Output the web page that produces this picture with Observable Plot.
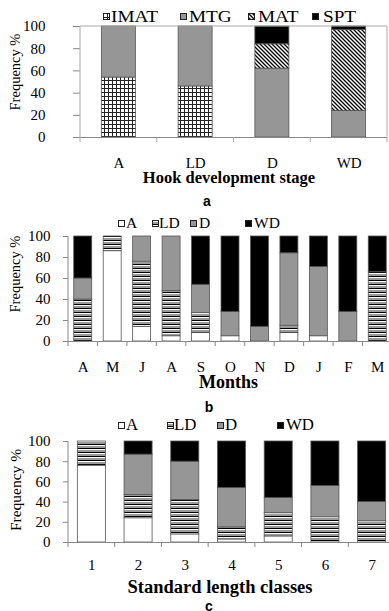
<!DOCTYPE html>
<html><head><meta charset="utf-8">
<script src="https://cdn.jsdelivr.net/npm/d3@7"></script>
<script src="https://cdn.jsdelivr.net/npm/@observablehq/plot@0.6"></script>
<style>
html,body{margin:0;padding:0;background:#fff;overflow:hidden;}
#root{position:relative;width:389px;height:611px;overflow:hidden;font-family:"Liberation Serif","Times New Roman",serif;color:#000;}
.panel{position:absolute;left:0;}
.lg-box{position:absolute;width:7px;height:7px;}
.lg-text{position:absolute;line-height:15px;white-space:nowrap;transform-origin:0 50%;}
.tag{position:absolute;width:20px;text-align:center;font-family:"Liberation Sans",Arial,sans-serif;font-weight:bold;font-size:14px;line-height:14px;}
[aria-label="y-axis tick"]{color:#888;}
</style>
</head><body>
<svg width="0" height="0" style="position:absolute">
<defs>
<pattern id="pGrid" width="4" height="4" patternUnits="userSpaceOnUse">
<rect width="4" height="4" fill="#fff"/>
<path d="M0.5,0V4M0,0.5H4" stroke="#222" stroke-width="1"/>
</pattern>
<pattern id="pDiag" width="4" height="4" patternUnits="userSpaceOnUse">
<rect width="4" height="4" fill="#fff"/>
<path d="M-1,-1L5,5M-1,3L1,5M3,-1L5,1" stroke="#000" stroke-width="1.3"/>
</pattern>
<pattern id="pHoriz" width="4" height="4" patternUnits="userSpaceOnUse">
<rect width="4" height="4" fill="#9a9a9a"/>
<rect y="0" width="4" height="1" fill="#000"/>
<rect y="1" width="4" height="1" fill="#fff"/>
</pattern>
</defs></svg>
<div id="root"></div>
<script>
// ---------- DATA ----------
// Panel a: Hook development stage
const stageCats = ["A", "LD", "D", "WD"];
const stageSeries = ["IMAT", "MTG", "MAT", "SPT"];
const stageIMAT = [54, 46, 0, 0];
const stageMTG  = [46, 54, 62, 24];
const stageMAT  = [0, 0, 22, 73];
const stageSPT  = [0, 0, 16, 3];

// Panel b: Months
const monthKeys   = ["Apr", "May", "Jun", "Aug", "Sep", "Oct", "Nov", "Dec", "Jan", "Feb", "Mar"];
const monthLabels = ["A", "M", "J", "A", "S", "O", "N", "D", "J", "F", "M"];
const hookSeries = ["A", "LD", "D", "WD"];
const monthA  = [0, 86, 14, 5, 8, 5, 0, 8, 5, 0, 0];
const monthLD = [40, 14, 62, 43, 19, 0, 0, 7, 0, 0, 66];
const monthD  = [20, 0, 24, 52, 27, 23, 14, 69, 66, 28, 0];
const monthWD = [40, 0, 0, 0, 46, 72, 86, 16, 29, 72, 34];

// Panel c: Standard length classes
const lengthCats = ["1", "2", "3", "4", "5", "6", "7"];
const lengthA  = [76, 24, 8, 3, 6, 0, 0];
const lengthLD = [24, 23, 34, 12, 23, 25, 21];
const lengthD  = [0, 40, 38, 39, 15, 31, 19];
const lengthWD = [0, 13, 20, 46, 56, 44, 60];

const yTicks = [0, 20, 40, 60, 80, 100];

// ---------- STYLES ----------
const GRAY = "#969696";
const stageFills = ["url(#pGrid)", GRAY, "url(#pDiag)", "#000"];
const hookFills = ["#fff", "url(#pHoriz)", GRAY, "#000"];
const FONT = '"Liberation Serif","Times New Roman",serif';

const root = document.getElementById("root");

function panel(cfg) {
  const rows = cfg.series.flatMap((s, si) =>
    cfg.cats.map((c, ci) => ({cat: c, series: s, value: cfg.values[si][ci]}))
  ).filter(d => d.value > 0);

  const chart = Plot.plot({
    width: 389, height: cfg.height,
    marginLeft: cfg.mL, marginRight: cfg.mR, marginTop: cfg.mT, marginBottom: cfg.mB,
    style: {fontFamily: FONT, fontSize: "15px", background: "transparent", overflow: "visible", color: "#000"},
    x: {domain: cfg.cats, paddingInner: cfg.pad, paddingOuter: cfg.pad / 2, round: false, axis: null, label: null},
    y: {domain: [0, 100], axis: null, label: null},
    color: {domain: cfg.series, range: cfg.fills},
    marks: [
      Plot.barY(rows, {x: "cat", y: "value", fill: "series", stroke: "#555", strokeWidth: 0.8}),
      Plot.ruleY([0], {stroke: "#888"}),
      Plot.axisY({ticks: yTicks, tickSize: cfg.yTickSize, tickPadding: cfg.yTickPad, fontSize: 15, label: null}),
      Plot.axisX({tickSize: 0, tickPadding: cfg.xTickPad, fontSize: 15, label: null,
        tickFormat: cfg.labels ? (d => cfg.labels[cfg.cats.indexOf(d)]) : (d => d)}),
      Plot.text([cfg.title], {text: d => d, frameAnchor: "bottom", dx: cfg.titleDx, dy: cfg.titleDy,
        fontWeight: "bold", fontSize: cfg.titleSize}),
      Plot.text(["Frequency %"], {text: d => d, frameAnchor: "left", textAnchor: "middle", rotate: -90,
        dx: cfg.ylabDx, dy: cfg.ylabDy, fontSize: cfg.ylabSize})
    ]
  });

  // axis line, band-boundary ticks and frame, from the library's scales
  const xs = chart.scale("x"), ys = chart.scale("y");
  const r0 = xs.range[0], r1 = xs.range[1], step = xs.step;
  const y0 = ys.apply(0), y100 = ys.apply(100);
  const g = d3.select(chart).append("g").attr("stroke", "#888").attr("fill", "none");
  g.append("line").attr("x1", r0).attr("x2", r0).attr("y1", y100).attr("y2", y0);
  for (let i = 0; i <= cfg.cats.length; i++) {
    const x = r0 + i * step;
    g.append("line").attr("x1", x).attr("x2", x).attr("y1", y0).attr("y2", y0 + 5);
  }
  if (cfg.frame) {
    g.attr("stroke", "#aaa");
    g.append("line").attr("x1", r0).attr("x2", r1).attr("y1", y100).attr("y2", y100);
    g.append("line").attr("x1", r1).attr("x2", r1).attr("y1", y100).attr("y2", y0);
  }

  const wrap = document.createElement("div");
  wrap.className = "panel";
  wrap.style.top = cfg.top + "px";
  wrap.appendChild(chart);
  root.appendChild(wrap);

  // legend
  cfg.series.forEach((s, i) => {
    const box = document.createElement("div");
    box.className = "lg-box";
    box.style.left = cfg.legend.box[i] + "px";
    box.style.top = (cfg.legend.y - 3.5) + "px";
    box.innerHTML = `<svg width="7" height="7" style="display:block"><rect x="0.5" y="0.5" width="6" height="6" fill="${cfg.fills[i]}" stroke="#222" stroke-width="1"/></svg>`;
    root.appendChild(box);
    const t = document.createElement("div");
    t.className = "lg-text";
    t.style.fontSize = cfg.legend.size + "px";
    t.style.transform = `scaleX(${cfg.legend.stretch})`;
    t.style.left = (cfg.legend.text[i] + 1) + "px";
    t.style.top = (cfg.legend.y - 7.8) + "px";
    t.textContent = s;
    root.appendChild(t);
  });

  const tag = document.createElement("div");
  tag.className = "tag";
  tag.style.left = (cfg.tag.x - 10) + "px";
  tag.style.top = (cfg.tag.y - 8.3) + "px";
  tag.textContent = cfg.tag.text;
  root.appendChild(tag);
}

panel({
  cats: stageCats, series: stageSeries, values: [stageIMAT, stageMTG, stageMAT, stageSPT], fills: stageFills,
  top: 0, height: 200, mL: 80, mR: 2, mT: 26, mB: 63, pad: 0.557,
  yTickSize: 7, yTickPad: 28, xTickPad: 20,
  title: "Hook development stage", titleSize: 16.5, titleDx: -5, titleDy: 45,
  ylabDx: -65, ylabDy: -10, ylabSize: 14.5, frame: true,
  legend: {y: 16.5, size: 16, stretch: 1.2, box: [103, 180, 248, 312], text: [110, 188, 257, 322]},
  tag: {text: "a", x: 207, y: 202}
});

panel({
  cats: monthKeys, labels: monthLabels, series: hookSeries, values: [monthA, monthLD, monthD, monthWD], fills: hookFills,
  top: 200, height: 200, mL: 68, mR: -3, mT: 36, mB: 59, pad: 0.39,
  yTickSize: 5, yTickPad: 13, xTickPad: 20,
  title: "Months", titleSize: 18, titleDx: -2, titleDy: 46,
  ylabDx: -53, ylabDy: -15, ylabSize: 14.5, frame: false,
  legend: {y: 223, size: 15.5, stretch: 1, box: [118, 152, 190, 245], text: [125, 158, 198, 253]},
  tag: {text: "b", x: 209, y: 408}
});

panel({
  cats: lengthCats, series: hookSeries, values: [lengthA, lengthLD, lengthD, lengthWD], fills: hookFills,
  top: 400, height: 211, mL: 68, mR: -6, mT: 41, mB: 69, pad: 0.4,
  yTickSize: 5, yTickPad: 13, xTickPad: 17,
  title: "Standard length classes", titleSize: 18.5, titleDx: -12, titleDy: 50,
  ylabDx: -52, ylabDy: -2, ylabSize: 15.5, frame: false,
  legend: {y: 425, size: 16, stretch: 1.05, box: [118, 167, 217, 277], text: [125, 173, 224, 285]},
  tag: {text: "c", x: 209, y: 607}
});
</script>
</body></html>
